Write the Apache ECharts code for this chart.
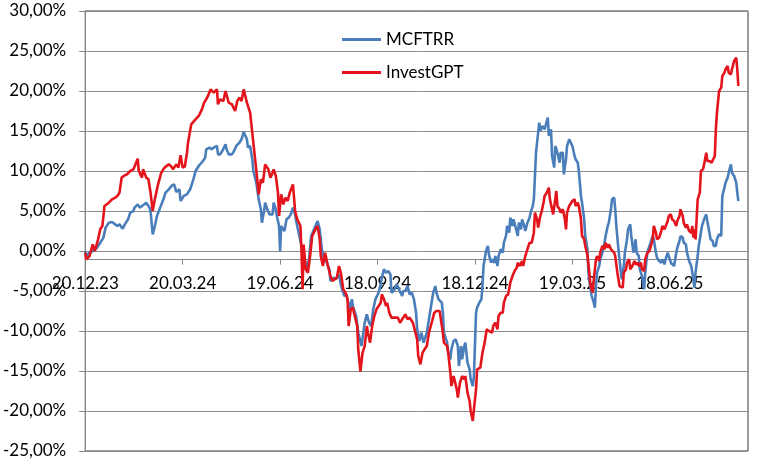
<!DOCTYPE html>
<html>
<head>
<meta charset="utf-8">
<script src="https://cdn.jsdelivr.net/npm/echarts@6/dist/echarts.min.js"></script>
<style>
html,body{margin:0;padding:0;background:#fff;}
#chart{width:758px;height:464px;}
</style>
</head>
<body>
<div id="chart"></div>
<script>
// Tick labels on the x axis (days counted from 20.12.23)
var tickLabels = ['20.12.23','20.03.24','19.06.24','18.09.24','18.12.24','19.03.25','18.06.25'];
var tickDays = [0, 91, 182, 273, 364, 455, 546];
var axisMaxDay = 619;

// MCFTRR series: day offsets and values (%)
var mcftrrDays = [0,1,4,7,11,14,17,19,22,25,28,30,32,35,37,40,42,45,46,49,51,54,57,60,61,63,65,67,70,73,75,78,81,83,85,88,89,92,95,98,101,103,106,107,110,112,113,116,118,120,123,124,126,128,131,132,134,137,139,141,144,146,148,151,152,154,156,157,159,160,162,
164,165,167,168,170,172,173,175,176,178,179,181,182,183,184,186,188,190,192,194,196,197,200,202,204,205,207,209,211,213,215,217,219,221,223,225,228,229,232,234,237,239,242,244,247,249,250,253,255,258,261,263,265,267,269,271,274,276,277,279,281,283,285,286,288,289,291,293,296,297,299,301,303,305,307,309,310,312,
314,316,317,319,320,322,324,325,327,328,330,331,333,334,335,338,339,341,342,344,346,348,349,351,352,354,355,357,359,360,362,363,365,366,368,370,371,372,374,376,377,379,380,382,383,385,386,388,390,391,393,394,396,397,399,400,402,404,405,407,408,410,411,413,415,416,418,419,421,422,424,425,427,429,430,432,433,435,436,438,439,441,443,444,446,447,449,450,452,453,455,457,458,460,461,463,464,466,467,469,
470,471,473,475,476,477,478,480,481,483,485,486,488,489,491,492,494,495,496,498,500,501,503,504,506,507,509,510,512,514,515,517,518,520,521,522,523,525,527,528,530,531,533,534,536,538,539,541,542,544,545,547,548,550,552,553,555,556,558,559,561,562,564,566,567,569,570,572,573,575,576,578,580,581,583,584,586,587,589,590,592,594,595,597,598,600,601,603,604,606,608,609,610];
var mcftrrValues = [0,-0.63,-0.21,0,0.42,1.04,1.67,2.92,3.54,3.63,3.33,3.13,3.33,2.79,3.33,3.96,4.79,5.0,5.42,5.83,5.42,5.71,6.04,5.42,5.0,2.08,3.13,4.38,5.42,6.46,7.29,7.71,8.21,8.33,7.38,7.71,6.25,6.88,7.08,7.71,8.96,10.0,10.63,10.83,11.25,11.67,12.71,12.92,12.71,12.92,13.13,12.08,12.08,12.5,13.33,12.71,12.08,12.08,12.5,13.13,13.54,13.96,14.88,13.96,12.92,13.13,11.46,10.0,8.96,8.33,6.46,
5.21,3.54,5.0,6.04,5.21,4.58,4.79,4.58,6.04,5.21,4.38,3.13,0,3.13,2.92,2.5,3.96,4.17,4.58,5.42,4.58,3.75,1.88,0.63,-0.63,-1.04,-2.29,-1.04,1.88,2.5,3.13,3.75,2.71,0.21,-1.04,-1.25,-2.29,-3.75,-3.33,-3.54,-2.92,-4.38,-5.63,-5.42,-7.29,-6.04,-6.88,-8.13,-10.21,-11.88,-8.96,-7.92,-8.96,-9.38,-7.29,-6.04,-5.21,-4.17,-3.33,-2.29,-2.71,-2.5,-2.92,-5.21,-5.0,-4.79,-4.17,-4.79,-5.63,-5.0,-5.0,-4.38,-5.42,-5.21,-6.04,-7.71,-9.79,-11.25,
-10.21,-11.46,-11.04,-10.21,-9.38,-7.71,-6.04,-5.21,-4.38,-5.21,-6.04,-6.04,-6.46,-7.71,-10.21,-11.46,-12.71,-13.54,-12.29,-11.25,-11.04,-11.88,-14.38,-11.88,-13.54,-11.88,-11.46,-13.96,-14.79,-16.04,-16.88,-15.63,-7.71,-7.08,-6.46,-6.04,-4.38,-1.88,-0.21,0.63,-0.42,-1.46,-1.04,-1.46,-0.63,-1.88,-0.63,0.21,-0.21,1.04,1.88,3.13,2.29,4.17,3.13,3.96,2.92,1.88,3.54,2.71,3.96,3.13,2.5,3.54,4.17,4.79,5.63,6.46,12.29,12.29,16.04,15.0,15.63,15.21,15.42,16.67,14.38,15.21,11.88,10.42,13.13,12.29,11.04,12.29,12.29,9.58,11.46,13.13,13.96,14.17,13.13,11.88,11.46,11.04,10.0,6.88,6.04,3.96,1.88,0.21,
-2.71,-3.96,-5.63,-6.46,-7.08,-4.38,-2.71,-1.88,-1.04,-0.21,1.04,1.88,3.13,3.54,5.21,6.46,6.67,5.21,3.13,0.21,-2.29,-3.54,-1.88,-0.21,1.46,2.71,3.33,1.88,-0.21,1.46,-0.21,-0.63,-2.29,-3.13,-3.96,-4.79,-2.71,-0.21,0.63,1.04,1.88,1.46,-0.21,-0.83,-1.25,-1.46,-1.04,-1.67,-1.04,-0.21,-0.63,-1.46,-1.25,-1.88,-0.21,0.42,1.25,1.88,1.67,1.04,0.83,-0.21,-1.25,-1.88,-2.71,-4.58,-2.71,-0.63,0.63,2.29,3.13,3.96,4.58,3.75,2.29,1.46,1.25,0.63,0.63,1.46,2.08,1.88,6.88,7.92,8.54,9.17,9.79,10.83,9.79,9.38,8.54,7.29,6.25];

// InvestGPT series: day offsets and values (%)
var investDays = [0,1,4,7,9,12,14,16,18,22,25,28,30,32,34,36,39,42,45,46,49,50,53,54,57,59,61,63,65,68,71,74,78,80,82,85,87,89,91,93,95,96,99,103,106,109,111,113,116,117,120,123,124,126,129,131,134,137,140,142,144,146,148,151,152,154,156,158,160,162,
164,166,168,171,173,175,176,178,180,181,183,185,187,189,191,194,196,198,201,202,203,204,206,208,210,212,215,217,219,220,222,224,226,229,231,233,235,237,239,241,243,245,246,248,250,251,254,255,257,259,261,263,264,266,268,270,272,274,276,277,279,281,282,284,286,289,292,294,296,299,301,303,306,307,310,311,313,
315,317,319,321,324,326,328,331,332,334,335,338,339,341,342,344,345,347,348,350,352,354,355,357,359,360,362,363,365,366,367,369,371,373,375,377,380,381,383,385,386,388,390,391,393,395,396,397,399,401,403,404,406,408,409,411,412,414,415,417,419,420,422,423,425,426,428,429,431,433,434,436,437,439,440,441,443,444,446,448,449,450,452,453,455,457,458,460,461,463,464,466,467,469,471,
472,474,475,477,478,480,481,483,485,486,488,489,491,492,494,495,497,499,500,502,503,505,506,508,509,511,513,514,516,517,519,520,522,523,525,527,528,530,531,533,534,536,538,539,541,542,544,545,547,548,550,552,553,555,556,558,559,561,562,564,566,567,568,569,570,571,572,574,575,577,578,580,581,583,585,586,588,589,590,592,594,595,597,598,600,601,603,604,606,608,609,610];
var investValues = [-0.21,-1.04,-0.63,0.83,0,1.46,2.71,3.13,5.63,6.04,6.46,6.67,6.88,7.29,9.17,9.38,9.58,10.0,10.21,10.54,11.54,10.0,9.17,10.21,9.17,8.96,7.29,5.0,6.46,8.33,9.79,10.42,10.83,10.63,10.21,10.83,10.42,11.96,10.42,10.54,12.29,13.54,15.83,16.46,16.88,17.71,18.54,18.96,19.79,20.21,19.79,20.21,18.33,18.96,18.75,20.0,18.54,18.33,17.5,18.75,19.17,18.75,20.21,18.54,18.33,17.29,14.79,12.29,9.79,7.08,
8.96,8.54,10.83,10.21,9.17,9.79,10.21,9.38,7.29,4.38,7.08,5.83,6.67,6.25,7.29,8.33,5.0,3.96,3.13,-0.21,-4.79,0.8,-2.29,-2.71,-0.63,1.88,2.71,3.13,1.46,-0.63,-1.88,-0.21,-1.46,-3.13,-3.75,-3.54,-3.33,-1.88,-2.92,-4.79,-5.21,-6.04,-9.38,-7.29,-7.08,-7.71,-9.38,-12.29,-15.08,-12.71,-11.88,-9.38,-10.21,-11.46,-9.38,-8.13,-7.29,-6.88,-6.46,-5.42,-6.04,-6.88,-6.46,-7.71,-8.33,-8.33,-8.33,-8.96,-8.54,-7.92,-8.54,-8.33,-8.96,-9.17,-11.04,-13.13,-14.17,
-12.71,-12.29,-11.88,-10.21,-8.75,-7.71,-7.5,-7.5,-7.71,-10.21,-11.46,-11.88,-12.71,-15.21,-16.88,-15.63,-15.63,-17.29,-18.33,-16.46,-15.63,-16.04,-15.63,-17.71,-18.75,-20.0,-21.25,-19.79,-17.29,-14.79,-14.79,-14.58,-12.71,-11.46,-9.79,-10.0,-10.21,-9.38,-8.96,-9.79,-8.13,-7.71,-7.71,-6.46,-5.63,-5.42,-5.42,-3.96,-3.13,-2.5,-2.08,-1.46,-1.88,-1.25,-1.88,-0.63,-0.21,0.63,1.04,1.04,2.29,4.79,3.96,2.92,4.38,4.79,6.04,6.88,7.29,7.92,6.46,5.21,4.58,6.46,7.5,5.63,5.21,4.79,5.21,3.96,2.71,4.79,5.63,5.83,6.25,6.46,5.63,6.04,5.63,3.96,1.88,1.46,0.63,-0.5,-3.0,
-4.38,-5.21,-3.54,-1.04,-0.63,-1.25,-0.21,0.63,0.21,1.04,0.42,0.83,0.21,0.42,-0.21,-0.63,-2.71,-4.38,-4.38,-4.58,-2.71,-2.29,-1.46,-1.04,-2.29,-1.88,-1.25,-1.67,-1.46,-1.88,-1.46,-2.29,-2.5,-1.04,-0.21,0,0.21,1.46,3.13,2.29,1.46,1.67,2.5,3.13,2.71,2.5,3.75,4.38,4.58,3.96,3.75,3.13,3.75,4.38,5.21,4.38,3.54,2.92,3.33,2.5,2.29,3.13,1.67,2.71,1.46,3.96,6.46,7.29,10.0,10.21,10.83,12.29,11.25,11.25,11.04,10.83,11.88,15.21,17.29,20.0,20.42,21.88,22.29,22.71,23.13,22.29,22.08,22.71,23.75,24.17,22.71,20.63];

function pairs(days, vals) {
  var out = [];
  for (var i = 0; i < days.length; i++) out.push([days[i], vals[i]]);
  return out;
}

var FONT = 'Lato';
var chart = echarts.init(document.getElementById('chart'), null, {renderer: 'canvas'});
chart.setOption({
  animation: false,
  backgroundColor: '#ffffff',
  grid: {
    left: 85, right: 10, top: 11, bottom: 13,
    show: true, borderColor: '#3a3a3a', borderWidth: 1
  },
  legend: {
    orient: 'vertical',
    left: 342, top: 31,
    padding: 0,
    icon: 'rect',
    itemWidth: 39, itemHeight: 3,
    itemGap: 16,
    textStyle: {fontFamily: FONT, fontSize: 17, color: '#000'},
    data: ['MCFTRR', 'InvestGPT']
  },
  xAxis: {
    type: 'value',
    min: 0, max: axisMaxDay, interval: 91,
    offset: 0,
    axisLine: {show: true, onZero: false, lineStyle: {color: '#868686', width: 1}},
    axisTick: {show: true, inside: false, length: 5, customValues: tickDays, lineStyle: {color: '#868686'}},
    axisLabel: {
      customValues: tickDays,
      fontFamily: FONT, fontSize: 17, color: '#000', margin: 15,
      formatter: function (v) {
        var i = tickDays.indexOf(Math.round(v));
        return i >= 0 ? tickLabels[i] : '';
      }
    },
    splitLine: {show: false}
  },
  yAxis: {
    type: 'value',
    min: -25, max: 30, interval: 5,
    axisLine: {show: true, onZero: false, lineStyle: {color: '#868686', width: 1}},
    axisTick: {show: true, length: 6, lineStyle: {color: '#868686'}},
    axisLabel: {
      fontFamily: FONT, fontSize: 17, color: '#000', margin: 19,
      formatter: function (v) { return v.toFixed(2).replace('.', ',') + '%'; }
    },
    splitLine: {show: true, lineStyle: {color: '#8c8c8c', width: 1}}
  },
  series: [
    {
      name: 'MCFTRR', type: 'line', symbol: 'none', smooth: false,
      data: pairs(mcftrrDays, mcftrrValues),
      lineStyle: {color: '#4A7EBB', width: 2.6},
      itemStyle: {color: '#4A7EBB'},
      z: 3
    },
    {
      name: 'InvestGPT', type: 'line', symbol: 'none', smooth: false,
      data: pairs(investDays, investValues),
      lineStyle: {color: '#E3141B', width: 2.6},
      itemStyle: {color: '#E3141B'},
      z: 4
    }
  ]
});
// Move the x axis so that it crosses the y axis at 0 (as in the original chart)
var zeroY = chart.convertToPixel({yAxisIndex: 0}, 0);
var bottomY = chart.convertToPixel({yAxisIndex: 0}, -25);
chart.setOption({xAxis: {offset: -(bottomY - zeroY)}});
</script>
</body>
</html>
